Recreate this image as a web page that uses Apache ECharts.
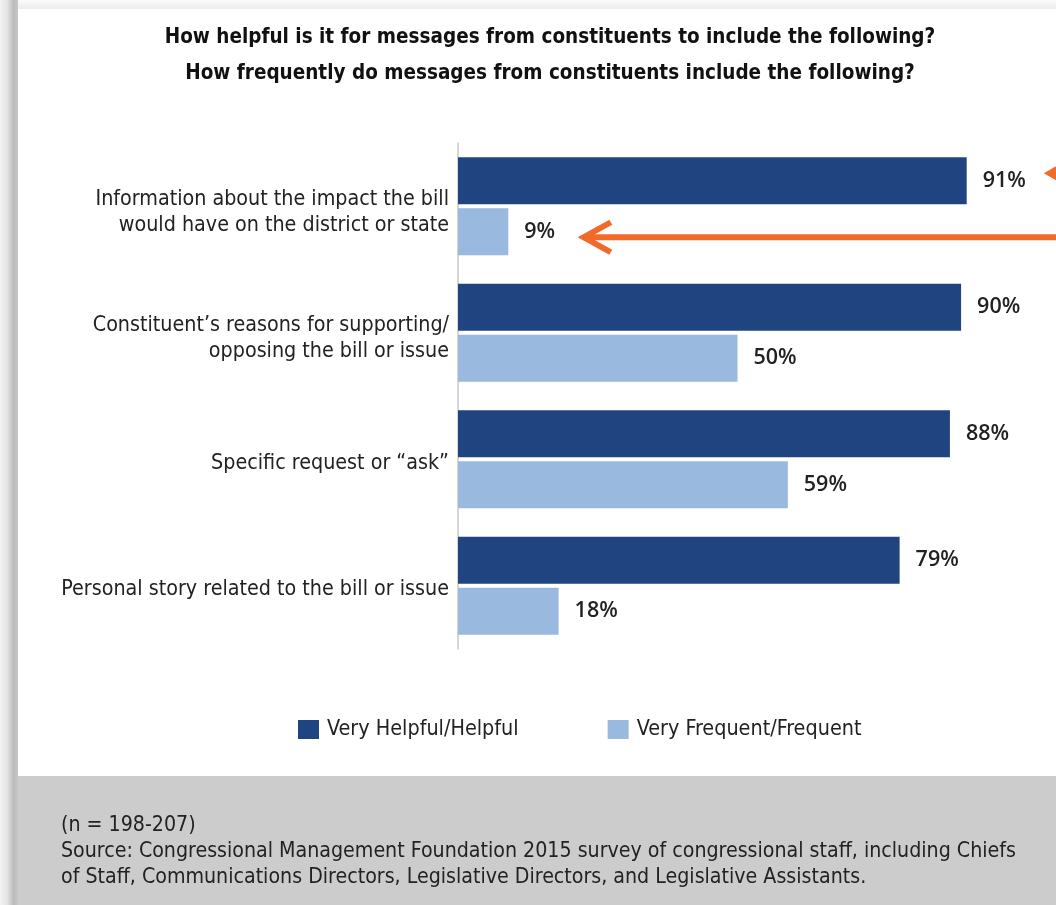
<!DOCTYPE html>
<html>
<head>
<meta charset="utf-8">
<script src="https://cdn.jsdelivr.net/npm/echarts@6/dist/echarts.min.js"></script>
<style>
html,body{margin:0;padding:0;background:#fff;}
#chart{width:1056px;height:905px;}
</style>
</head>
<body>
<div id="chart"></div>
<script>
const categories = [
  "Information about the impact the bill\nwould have on the district or state",
  "Constituent\u2019s reasons for supporting/\nopposing the bill or issue",
  "Specific request or \u201cask\u201d",
  "Personal story related to the bill or issue"
];
const seriesNames = ["Very Helpful/Helpful", "Very Frequent/Frequent"];
const helpful = [91, 90, 88, 79];
const frequent = [9, 50, 59, 18];
const titleLines = [
  "How helpful is it for messages from constituents to include the following?",
  "How frequently do messages from constituents include the following?"
];
const footnotes = [
  "(n = 198-207)",
  "Source: Congressional Management Foundation 2015 survey of congressional staff, including Chiefs",
  "of Staff, Communications Directors, Legislative Directors, and Legislative Assistants."
];

const NARROW = '"Liberation Sans Narrow", "DejaVu Sans Condensed", sans-serif';
const DARK = '#1f4480';
const LIGHT = '#99b9df';
const ORANGE = '#f26a2a';
const TXT = '#222222';

const chart = echarts.init(document.getElementById('chart'));

const option = {
  animation: false,
  backgroundColor: '#ffffff',
  title: {
    text: titleLines.join('\n'),
    left: 545,
    top: 15,
    textAlign: 'center',
    textStyle: {fontFamily: NARROW, fontWeight: 'bold', fontSize: 20.5, lineHeight: 36, color: '#111'}
  },
  legend: {
    left: 293,
    top: 714,
    itemWidth: 21,
    itemHeight: 19,
    itemGap: 89,
    icon: 'rect',
    textStyle: {fontFamily: NARROW, fontSize: 21.4, color: TXT, padding: [0, 0, 0, 3]},
    data: seriesNames
  },
  grid: {left: 458, right: 39, top: 143, height: 506, containLabel: false},
  xAxis: {type: 'value', min: 0, max: 100, show: false},
  yAxis: {
    type: 'category',
    inverse: true,
    data: categories,
    axisLine: {show: true, lineStyle: {color: '#c8c8c8', width: 1.5}},
    axisTick: {show: false},
    axisLabel: {
      fontFamily: NARROW, fontSize: 21.3, lineHeight: 26, color: TXT, margin: 9, align: 'right',
      formatter: function (v) {
        const extra = v.indexOf('\n') >= 0 ? 12 : 8;
        return '{s' + extra + '| }\n' + v.split('\n').map(l => '{a|' + l + '}').join('\n');
      },
      rich: {
        s12: {fontSize: 1, lineHeight: 12},
        s8: {fontSize: 1, lineHeight: 8},
        a: {fontFamily: NARROW, fontSize: 21.3, lineHeight: 26, color: TXT, align: 'right'}
      }
    }
  },
  series: [
    {
      name: seriesNames[0], type: 'bar', data: helpful,
      barWidth: 47, barGap: '8.5%',
      itemStyle: {color: DARK},
      label: {show: true, position: 'right', distance: 16, formatter: '{c}%',
        fontFamily: '"Open Sans", sans-serif', fontSize: 21.5, fontWeight: 600, color: TXT, padding: [5, 0, 0, 0]}
    },
    {
      name: seriesNames[1], type: 'bar', data: frequent,
      barWidth: 47,
      itemStyle: {color: LIGHT},
      label: {show: true, position: 'right', distance: 16, formatter: '{c}%',
        fontFamily: '"Open Sans", sans-serif', fontSize: 21.5, fontWeight: 600, color: TXT, padding: [5, 0, 0, 0]}
    }
  ]
};
chart.setOption(option);

// Frame, footer and annotation arrows
const W = 1056, H = 905;
const cat0 = chart.convertToPixel({yAxisIndex: 0}, categories[0]);
const tipLow = chart.convertToPixel({xAxisIndex: 0}, 22.5);
const tipHigh = chart.convertToPixel({xAxisIndex: 0}, 104.8);
const yLow = cat0 + 31;
const yHigh = cat0 - 33;

const footerTexts = footnotes.map((t, i) => ({
  type: 'text', left: 61, top: 815 + i * 26, z: 10,
  style: {text: t, fontFamily: NARROW, fontSize: 21.2, fill: TXT}
}));

chart.setOption({
  graphic: [
    {type: 'rect', shape: {x: 0, y: 0, width: W, height: 9}, z: -1,
      style: {fill: new echarts.graphic.LinearGradient(0, 0, 0, 1, [
        {offset: 0, color: '#fafafa'}, {offset: 1, color: '#ececec'}])}},
    {type: 'rect', shape: {x: 0, y: 0, width: 18, height: H}, z: 1,
      style: {fill: new echarts.graphic.LinearGradient(0, 0, 1, 0, [
        {offset: 0, color: '#f4f4f4'}, {offset: 0.4, color: '#e4e4e4'},
        {offset: 0.75, color: '#bdbdbd'}, {offset: 1, color: '#c6c6c6'}])}},
    {type: 'rect', shape: {x: 18, y: 776, width: W - 18, height: H - 776}, z: 1,
      style: {fill: '#cccccc'}},
    {type: 'line', z: 5, shape: {x1: tipLow + 3, y1: yLow, x2: W, y2: yLow},
      style: {stroke: ORANGE, lineWidth: 6}},
    {type: 'polyline', z: 5, shape: {points: [[tipLow + 27, yLow - 15], [tipLow, yLow], [tipLow + 27, yLow + 15]]},
      style: {stroke: ORANGE, lineWidth: 6, fill: null, lineJoin: 'miter'}},
    {type: 'polygon', z: 5, shape: {points: [[tipHigh, yHigh], [tipHigh + 14, yHigh - 8], [tipHigh + 14, yHigh + 8]]},
      style: {fill: ORANGE}}
  ].concat(footerTexts)
});
</script>
</body>
</html>
